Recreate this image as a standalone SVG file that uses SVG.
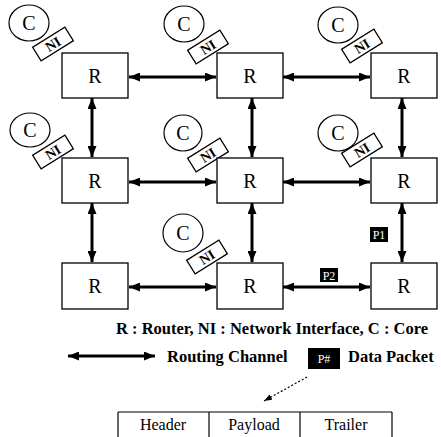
<svg xmlns="http://www.w3.org/2000/svg" width="441" height="437" viewBox="0 0 441 437">
<defs>
<marker id="ah" viewBox="0 0 11 9" refX="11" refY="4.5" markerWidth="11" markerHeight="9" markerUnits="userSpaceOnUse" orient="auto-start-reverse">
<path d="M0,0 L11,4.5 L0,9 Z" fill="#000"/>
</marker>
<marker id="ah2" viewBox="0 0 8 6" refX="8" refY="3" markerWidth="8" markerHeight="6" markerUnits="userSpaceOnUse" orient="auto">
<path d="M0,0 L8,3 L0,6 Z" fill="#000"/>
</marker>
</defs>
<style>
.r{fill:#fff;stroke:#000;stroke-width:1.3}
.t{font-family:"Liberation Serif",serif;fill:#000}
.rl{font-size:20px}
.cl{font-size:20px}
.c{fill:#fff;stroke:#000;stroke-width:1.2}
.ni{fill:#fff;stroke:#000;stroke-width:1.3}
.nit{font-size:14px;font-weight:bold}
.ch{stroke:#000;stroke-width:3;fill:none;marker-start:url(#ah);marker-end:url(#ah)}
.pk{fill:#000}
.pkt{font-family:"Liberation Serif",serif;fill:#fff;font-size:12px}
.lg{font-family:"Liberation Serif",serif;font-weight:bold;font-size:16.5px;fill:#000}
.tb{font-size:16px}
</style>
<rect width="441" height="437" fill="#fff"/>
<g id="connectors">
<line class="ch" x1="129" y1="77" x2="216" y2="77"/>
<line class="ch" x1="283" y1="77" x2="370" y2="77"/>
<line class="ch" x1="129" y1="182" x2="216" y2="182"/>
<line class="ch" x1="283" y1="182" x2="370" y2="182"/>
<line class="ch" x1="129" y1="287" x2="216" y2="287"/>
<line class="ch" x1="283" y1="287" x2="370" y2="287"/>
<line class="ch" x1="92" y1="98" x2="92" y2="157"/>
<line class="ch" x1="252" y1="98" x2="252" y2="157"/>
<line class="ch" x1="402" y1="98" x2="402" y2="157"/>
<line class="ch" x1="92" y1="203" x2="92" y2="262"/>
<line class="ch" x1="252" y1="203" x2="252" y2="262"/>
<line class="ch" x1="402" y1="203" x2="402" y2="262"/>
</g>
<g id="cores">
<g id="c11"><ellipse class="c" cx="29" cy="23" rx="20" ry="18"/><text class="t cl" x="29" y="30" text-anchor="middle">C</text></g>
<g id="c12"><ellipse class="c" cx="184" cy="24" rx="20" ry="18"/><text class="t cl" x="184" y="31" text-anchor="middle">C</text></g>
<g id="c13"><ellipse class="c" cx="338" cy="25" rx="20" ry="18"/><text class="t cl" x="338" y="32" text-anchor="middle">C</text></g>
<g id="c21"><ellipse class="c" cx="30" cy="130" rx="20" ry="17"/><text class="t cl" x="30" y="137" text-anchor="middle">C</text></g>
<g id="c22"><ellipse class="c" cx="183" cy="133" rx="19" ry="18"/><text class="t cl" x="183" y="140" text-anchor="middle">C</text></g>
<g id="c23"><ellipse class="c" cx="338" cy="133" rx="20" ry="18"/><text class="t cl" x="338" y="140" text-anchor="middle">C</text></g>
<g id="c32"><ellipse class="c" cx="183" cy="233" rx="20" ry="19"/><text class="t cl" x="183" y="240" text-anchor="middle">C</text></g>
</g>
<g id="nis">
<g id="ni11" transform="translate(53,44) rotate(-32)"><rect class="ni" x="-19" y="-8" width="38" height="16"/><text class="t nit" x="0" y="5" text-anchor="middle">NI</text></g>
<g id="ni12" transform="translate(208,47) rotate(-32)"><rect class="ni" x="-19" y="-8" width="38" height="16"/><text class="t nit" x="0" y="5" text-anchor="middle">NI</text></g>
<g id="ni13" transform="translate(362,46) rotate(-32)"><rect class="ni" x="-19" y="-8" width="38" height="16"/><text class="t nit" x="0" y="5" text-anchor="middle">NI</text></g>
<g id="ni21" transform="translate(53,152) rotate(-32)"><rect class="ni" x="-19" y="-8" width="38" height="16"/><text class="t nit" x="0" y="5" text-anchor="middle">NI</text></g>
<g id="ni22" transform="translate(208,155) rotate(-32)"><rect class="ni" x="-19" y="-8" width="38" height="16"/><text class="t nit" x="0" y="5" text-anchor="middle">NI</text></g>
<g id="ni23" transform="translate(362,150) rotate(-32)"><rect class="ni" x="-19" y="-8" width="38" height="16"/><text class="t nit" x="0" y="5" text-anchor="middle">NI</text></g>
<g id="ni32" transform="translate(207,257) rotate(-32)"><rect class="ni" x="-19" y="-8" width="38" height="16"/><text class="t nit" x="0" y="5" text-anchor="middle">NI</text></g>
</g>
<g id="routers">
<g id="r11"><rect class="r" x="62" y="53" width="66" height="45"/><text class="t rl" x="95" y="83" text-anchor="middle">R</text></g>
<g id="r12"><rect class="r" x="217" y="53" width="66" height="45"/><text class="t rl" x="250" y="83" text-anchor="middle">R</text></g>
<g id="r13"><rect class="r" x="371" y="53" width="66" height="45"/><text class="t rl" x="404" y="83" text-anchor="middle">R</text></g>
<g id="r21"><rect class="r" x="62" y="158" width="66" height="45"/><text class="t rl" x="95" y="188" text-anchor="middle">R</text></g>
<g id="r22"><rect class="r" x="217" y="158" width="66" height="45"/><text class="t rl" x="250" y="188" text-anchor="middle">R</text></g>
<g id="r23"><rect class="r" x="371" y="158" width="66" height="45"/><text class="t rl" x="404" y="188" text-anchor="middle">R</text></g>
<g id="r31"><rect class="r" x="62" y="263" width="66" height="46"/><text class="t rl" x="95" y="293" text-anchor="middle">R</text></g>
<g id="r32"><rect class="r" x="217" y="263" width="66" height="46"/><text class="t rl" x="250" y="293" text-anchor="middle">R</text></g>
<g id="r33"><rect class="r" x="371" y="263" width="66" height="46"/><text class="t rl" x="404" y="293" text-anchor="middle">R</text></g>
</g>
<g id="packets">
<g id="p1"><rect class="pk" x="370" y="227" width="18" height="15"/><text class="pkt" x="379" y="239" text-anchor="middle">P1</text></g>
<g id="p2"><rect class="pk" x="320" y="268" width="18" height="14"/><text class="pkt" x="329" y="279.5" text-anchor="middle">P2</text></g>
</g>
<g id="legend">
<text class="lg" x="272" y="334" text-anchor="middle">R : Router, NI : Network Interface, C : Core</text>
<line class="ch" x1="68" y1="356" x2="155" y2="356"/>
<text class="lg" x="167" y="362">Routing Channel</text>
<rect class="pk" x="308" y="348" width="32" height="21"/>
<text class="pkt" x="324" y="363" text-anchor="middle" font-size="13">P#</text>
<text class="lg" x="348" y="362">Data Packet</text>
<line x1="307" y1="377" x2="264" y2="401" stroke="#000" stroke-width="1.2" stroke-dasharray="2,2" marker-end="url(#ah2)"/>
</g>
<g id="packet-format">
<line x1="118" y1="412" x2="392" y2="412" stroke="#000" stroke-width="1.2"/>
<line x1="118" y1="412" x2="118" y2="437" stroke="#000" stroke-width="1.2"/>
<line x1="209" y1="412" x2="209" y2="437" stroke="#000" stroke-width="1.2"/>
<line x1="300" y1="412" x2="300" y2="437" stroke="#000" stroke-width="1.2"/>
<line x1="392" y1="412" x2="392" y2="437" stroke="#000" stroke-width="1.2"/>
<text class="t tb" x="163" y="430" text-anchor="middle">Header</text>
<text class="t tb" x="254" y="430" text-anchor="middle">Payload</text>
<text class="t tb" x="346" y="430" text-anchor="middle">Trailer</text>
</g>
</svg>
